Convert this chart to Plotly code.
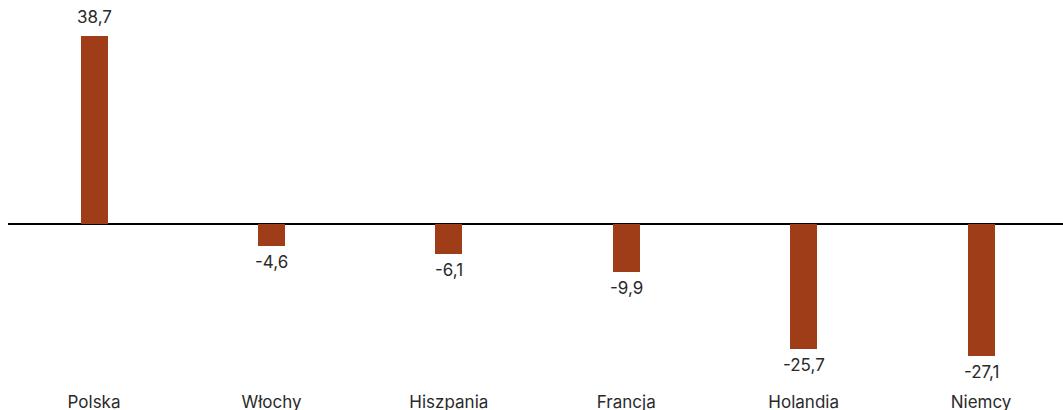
import plotly.graph_objects as go

countries = ["Polska", "Włochy", "Hiszpania", "Francja", "Holandia", "Niemcy"]
values = [38.7, -4.6, -6.1, -9.9, -25.7, -27.1]
labels = [f"{v:.1f}".replace(".", ",") for v in values]

bar_color = "#9f3d19"
font_family = "Inter, Roboto, sans-serif"
text_color = "#2a2a2a"

fig = go.Figure(
    go.Bar(
        x=countries,
        y=values,
        marker=dict(color=bar_color, line=dict(width=0)),
        width=0.152,
        hoverinfo="skip",
    )
)

# value labels just outside each bar end
for c, v, t in zip(countries, values, labels):
    fig.add_annotation(
        x=c, y=v, text=t, showarrow=False,
        yanchor="bottom" if v >= 0 else "top",
        yshift=7 if v >= 0 else -4,
        font=dict(family=font_family, size=17, color=text_color),
    )

fig.update_layout(
    width=1063, height=410,
    margin=dict(l=8, r=0, t=0, b=22),
    paper_bgcolor="white", plot_bgcolor="white",
    showlegend=False,
    bargap=0,
    font=dict(family=font_family, size=17, color=text_color),
)
fig.update_xaxes(
    type="category",
    range=[-0.485, 5.462],
    automargin=False,
    showgrid=False, showline=False, ticks="",
    ticklabelstandoff=2,
    tickfont=dict(family=font_family, size=17, color=text_color),
    fixedrange=True,
)
fig.update_yaxes(
    range=[-33.76, 46.11],
    automargin=False,
    showgrid=False, showticklabels=False, ticks="",
    zeroline=True, zerolinecolor="#000000", zerolinewidth=1.5,
    fixedrange=True,
)

fig.write_html("out.html", config={"displayModeBar": False})
